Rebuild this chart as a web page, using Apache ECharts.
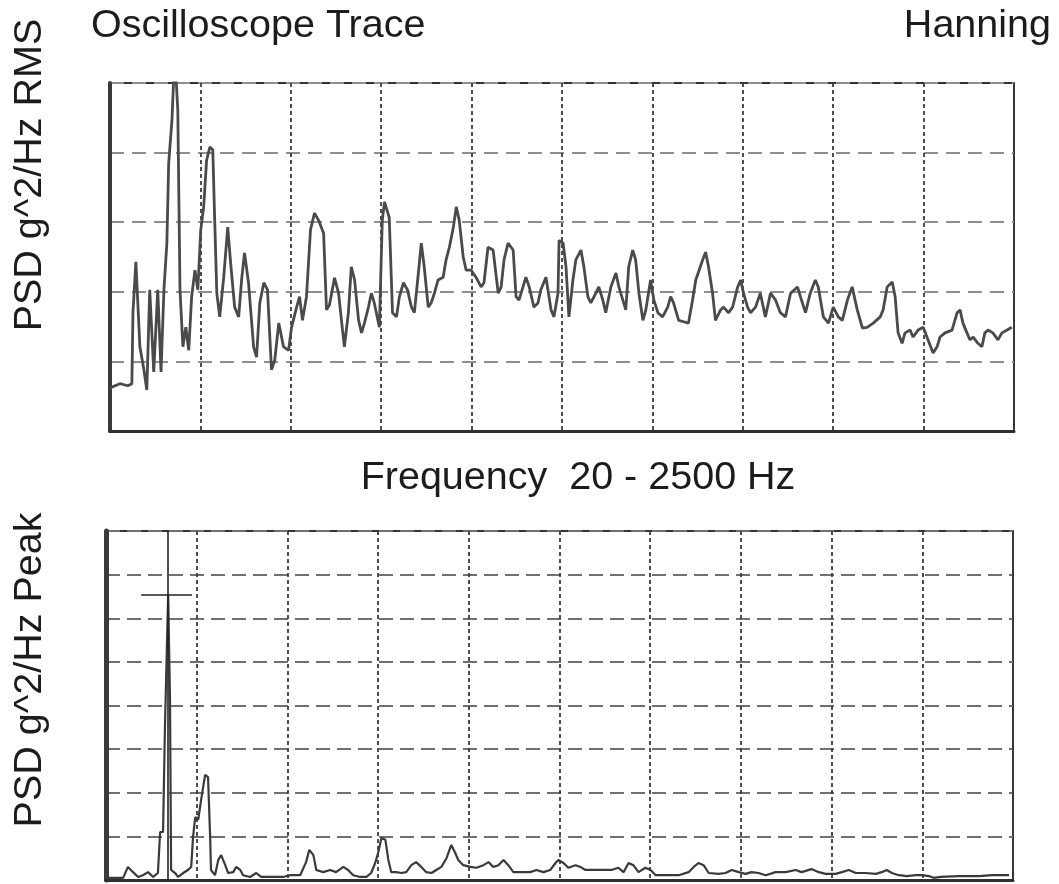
<!DOCTYPE html>
<html>
<head>
<meta charset="utf-8">
<script src="https://cdn.jsdelivr.net/npm/echarts@6/dist/echarts.min.js"></script>
<style>
  html, body { margin: 0; padding: 0; background: #ffffff; }
  #chart { width: 1059px; height: 884px; }
</style>
</head>
<body>
<div id="chart"></div>
<script>
// ---- Spectrum data -------------------------------------------------------
// RMS power spectral density, log10 of g^2/Hz, sampled across 20 - 2500 Hz
const rmsFreq = [
  20,47,69,80,83,91,102,113,121,129,
  140,151,160,168,176,181,190,195,201,206,
  212,220,228,236,244,253,261,269,277,285,
  294,302,307,313,321,332,343,351,362,373,
  381,389,400,414,422,431,442,452,463,472,
  483,496,510,518,532,540,548,559,570,581,
  592,606,614,622,636,647,655,663,674,682,
  691,702,710,718,729,737,745,759,767,773,
  786,795,806,814,825,836,847,855,866,874,
  882,893,901,910,920,934,942,951,962,970,
  978,989,997,1011,1024,1038,1046,1057,1071,1085,
  1093,1101,1112,1126,1134,1142,1153,1161,1170,1183,
  1194,1202,1216,1230,1238,1249,1252,1263,1271,1279,
  1290,1298,1312,1320,1331,1339,1353,1361,1372,1380,
  1394,1408,1416,1427,1435,1443,1454,1462,1471,1482,
  1490,1503,1512,1523,1536,1550,1558,1566,1580,1594,
  1607,1618,1627,1646,1654,1662,1673,1681,1695,1703,
  1717,1728,1742,1750,1758,1769,1777,1791,1804,1818,
  1832,1846,1859,1873,1887,1906,1914,1928,1941,1955,
  1963,1977,1991,2004,2018,2029,2043,2056,2070,2084,
  2097,2114,2133,2141,2152,2166,2174,2182,2193,2201,
  2215,2223,2237,2251,2264,2278,2289,2297,2311,2330,
  2344,2352,2360,2371,2379,2388,2401,2412,2420,2429,
  2442,2456,2467,2481,2494
];
const rmsLog = [
  -5.38,-5.32,-5.35,-5.32,-4.30,-3.57,-4.79,-5.12,-5.41,-3.97,
  -5.15,-3.97,-5.15,-3.97,-3.30,-2.15,-1.53,-0.90,-0.90,-1.39,
  -3.97,-4.79,-4.51,-4.84,-4.07,-3.69,-3.97,-3.11,-2.78,-2.11,
  -1.92,-1.96,-2.93,-4.02,-4.36,-3.79,-3.07,-3.59,-4.22,-4.36,
  -3.83,-3.44,-3.87,-4.79,-4.94,-4.16,-3.87,-3.97,-5.12,-4.98,
  -4.45,-4.79,-4.84,-4.51,-4.22,-4.07,-4.41,-4.07,-3.11,-2.87,
  -2.97,-3.16,-4.26,-4.19,-3.80,-4.02,-4.41,-4.79,-4.30,-3.64,
  -3.83,-4.41,-4.59,-4.45,-4.22,-4.02,-4.16,-4.51,-2.97,-2.71,
  -2.93,-4.30,-4.36,-4.07,-3.87,-3.97,-4.22,-4.30,-3.73,-3.30,
  -3.64,-4.22,-4.16,-4.02,-3.83,-3.79,-3.54,-3.36,-3.07,-2.78,
  -2.97,-3.50,-3.69,-3.69,-3.79,-3.93,-3.87,-3.36,-3.40,-4.02,
  -3.93,-3.54,-3.30,-3.40,-4.07,-4.12,-3.93,-3.79,-3.93,-4.22,
  -4.16,-3.97,-3.79,-4.26,-4.36,-4.02,-3.26,-3.30,-3.64,-4.36,
  -3.83,-3.54,-3.40,-3.64,-4.07,-4.16,-4.02,-3.93,-4.12,-4.30,
  -3.93,-3.73,-3.93,-4.12,-4.26,-3.64,-3.40,-3.54,-4.02,-4.41,
  -4.26,-3.83,-4.12,-4.30,-4.36,-4.22,-4.07,-4.16,-4.41,-4.43,
  -4.45,-4.12,-3.83,-3.54,-3.43,-3.64,-4.02,-4.41,-4.26,-4.22,
  -4.30,-4.22,-3.93,-3.83,-4.02,-4.22,-4.30,-4.22,-4.02,-4.36,
  -4.02,-4.12,-4.30,-4.36,-4.02,-3.93,-4.07,-4.30,-4.02,-3.83,
  -3.93,-4.36,-4.45,-4.22,-4.36,-4.41,-4.12,-3.93,-4.26,-4.52,
  -4.51,-4.45,-4.36,-4.26,-3.93,-3.86,-4.07,-4.59,-4.74,-4.59,
  -4.55,-4.65,-4.55,-4.51,-4.69,-4.88,-4.79,-4.65,-4.59,-4.55,
  -4.30,-4.26,-4.45,-4.59,-4.69,-4.65,-4.74,-4.79,-4.59,-4.55,
  -4.59,-4.69,-4.59,-4.55,-4.51
];

// Peak-hold power spectral density, linear g^2/Hz
const peakFreq = [
  20,67,80,94,108,121,135,149,162,168,
  176,181,190,195,198,209,217,231,244,253,
  258,264,272,280,291,299,305,307,318,327,
  335,346,354,368,376,387,395,414,431,444,
  469,504,524,551,567,576,587,595,614,633,
  649,669,682,696,715,732,745,756,764,773,
  784,792,800,814,827,841,855,868,882,896,
  910,923,937,951,964,975,983,997,1016,1033,
  1052,1066,1079,1093,1107,1120,1134,1153,1180,1197,
  1216,1235,1249,1257,1271,1284,1304,1317,1331,1347,
  1375,1402,1421,1435,1449,1462,1476,1495,1509,1523,
  1550,1586,1613,1627,1640,1654,1668,1695,1714,1731,
  1750,1769,1785,1804,1824,1851,1878,1906,1922,1949,
  1969,1988,2015,2032,2051,2070,2097,2125,2141,2155,
  2169,2188,2210,2234,2251,2270,2283,2303,2352,2407,
  2442,2489
];
const peakPsd = [
  0.0005,0.0005,0.0030,0.0018,0.0007,0.0011,0.0018,0.0007,0.0016,0.0110,
  0.0110,0.0344,0.0654,0.0413,0.0023,0.0016,0.0007,0.0016,0.0023,0.0030,
  0.0099,0.0144,0.0138,0.0183,0.0241,0.0236,0.0092,0.0023,0.0011,0.0046,
  0.0057,0.0034,0.0016,0.0018,0.0030,0.0023,0.0011,0.0007,0.0016,0.0007,
  0.0007,0.0007,0.0011,0.0011,0.0041,0.0069,0.0057,0.0023,0.0018,0.0023,
  0.0018,0.0030,0.0023,0.0011,0.0007,0.0007,0.0016,0.0039,0.0062,0.0096,
  0.0092,0.0046,0.0018,0.0018,0.0016,0.0018,0.0034,0.0041,0.0030,0.0018,
  0.0016,0.0023,0.0030,0.0050,0.0080,0.0062,0.0046,0.0034,0.0030,0.0028,
  0.0034,0.0041,0.0030,0.0034,0.0046,0.0034,0.0018,0.0018,0.0018,0.0023,
  0.0018,0.0023,0.0039,0.0046,0.0039,0.0028,0.0034,0.0030,0.0023,0.0023,
  0.0023,0.0023,0.0028,0.0018,0.0039,0.0034,0.0018,0.0028,0.0023,0.0011,
  0.0011,0.0011,0.0018,0.0030,0.0039,0.0034,0.0016,0.0014,0.0016,0.0023,
  0.0018,0.0014,0.0018,0.0016,0.0011,0.0018,0.0018,0.0023,0.0018,0.0025,
  0.0018,0.0014,0.0014,0.0018,0.0023,0.0016,0.0016,0.0014,0.0018,0.0023,
  0.0016,0.0011,0.0009,0.0011,0.0011,0.0009,0.0005,0.0007,0.0009,0.0009,
  0.0011,0.0011
];

// Peak cursor: frequency, level and the span of the level marker (Hz)
const cursorFreq = 190;
const cursorLevel = 0.0654;
const cursorSpan = [116, 255];

// Axis ranges
const freqRange = [20, 2500];
const rmsRange = [-6, -1];      // decades of g^2/Hz
const peakRange = [0, 0.08];    // g^2/Hz
const freqDivisions = 10;

// Text
const titleText = 'Oscilloscope Trace';
const windowText = 'Hanning';
const freqText = 'Frequency  20 - 2500 Hz';
const rmsAxisText = 'PSD g^2/Hz RMS';
const peakAxisText = 'PSD g^2/Hz Peak';

// ---- Chart ---------------------------------------------------------------
const FONT = '"Liberation Sans", Arial, Helvetica, sans-serif';
const TEXT_COLOR = '#1c1c1c';

const rmsPoints = rmsFreq.map((f, i) => [f, rmsLog[i]]);
const peakPoints = peakFreq.map((f, i) => [f, peakPsd[i]]);

const hiddenParts = {
  axisTick: { show: false },
  axisLabel: { show: false }
};

// Frequency axis that carries the data (no grid of its own)
function freqAxis(gridIndex) {
  return Object.assign({
    gridIndex, type: 'value', position: 'bottom',
    min: freqRange[0], max: freqRange[1],
    axisLine: { show: true, onZero: false, lineStyle: { color: '#2f2f2f', width: 3 } },
    splitLine: { show: false }
  }, hiddenParts);
}
// Division axis that draws the vertical graticule
function divisionAxis(gridIndex) {
  return Object.assign({
    gridIndex, type: 'value', position: 'top',
    min: 0, max: freqDivisions, interval: 1,
    axisLine: { show: false },
    splitLine: { show: true, lineStyle: { color: '#3c3c3c', width: 1.8, type: [4, 3] } }
  }, hiddenParts);
}

function textEl(text, x, y, opts) {
  return Object.assign({
    type: 'text', x, y, silent: true,
    style: Object.assign({
      text, fill: TEXT_COLOR, font: '39.5px ' + FONT,
      textAlign: 'left', textVerticalAlign: 'middle'
    }, opts && opts.style)
  }, opts && opts.el);
}

const option = {
  animation: false,
  backgroundColor: '#ffffff',
  grid: [
    { left: 110, top: 83, width: 904, height: 348, show: true,
      borderColor: '#333333', borderWidth: 2, backgroundColor: 'transparent' },
    { left: 106, top: 531, width: 907, height: 349, show: true,
      borderColor: '#333333', borderWidth: 2, backgroundColor: 'transparent' }
  ],
  xAxis: [freqAxis(0), divisionAxis(0), freqAxis(1), divisionAxis(1)],
  yAxis: [
    Object.assign({
      gridIndex: 0, type: 'value', min: rmsRange[0], max: rmsRange[1], interval: 1,
      axisLine: { show: true, onZero: false, lineStyle: { color: '#3a3a3a', width: 4 } },
      splitLine: { show: true, lineStyle: { color: '#8e8e8e', width: 2.2, type: [14, 8] } }
    }, hiddenParts),
    Object.assign({
      gridIndex: 1, type: 'value', min: peakRange[0], max: peakRange[1], interval: 0.01,
      axisLine: { show: true, onZero: false, lineStyle: { color: '#3a3a3a', width: 5 } },
      splitLine: { show: true, lineStyle: { color: '#707070', width: 2, type: [14, 7] } }
    }, hiddenParts)
  ],
  series: [
    {
      name: 'RMS', type: 'line', xAxisIndex: 0, yAxisIndex: 0,
      data: rmsPoints, showSymbol: false, clip: true, silent: true,
      lineStyle: { color: '#4a4a4a', width: 2.8 }
    },
    {
      name: 'Peak', type: 'line', xAxisIndex: 2, yAxisIndex: 1,
      data: peakPoints, showSymbol: false, clip: true, silent: true,
      lineStyle: { color: '#3a3a3a', width: 2.2 },
      markLine: {
        silent: true, symbol: 'none', animation: false,
        label: { show: false },
        lineStyle: { color: '#222222', width: 1.6, type: 'solid' },
        data: [
          { xAxis: cursorFreq },
          [{ coord: [cursorSpan[0], cursorLevel] }, { coord: [cursorSpan[1], cursorLevel] }]
        ]
      }
    }
  ],
  graphic: [
    textEl(titleText, 91, 26),
    textEl(windowText, 1051, 26, { style: { textAlign: 'right' } }),
    textEl(freqText, 578, 478, { style: { textAlign: 'center' } }),
    textEl(rmsAxisText, 30, 175, { style: { textAlign: 'center' }, el: { rotation: Math.PI / 2 } }),
    textEl(peakAxisText, 30, 670, { style: { textAlign: 'center' }, el: { rotation: Math.PI / 2 } })
  ]
};

const chart = echarts.init(document.getElementById('chart'), null, { renderer: 'canvas' });
chart.setOption(option);
</script>
</body>
</html>
